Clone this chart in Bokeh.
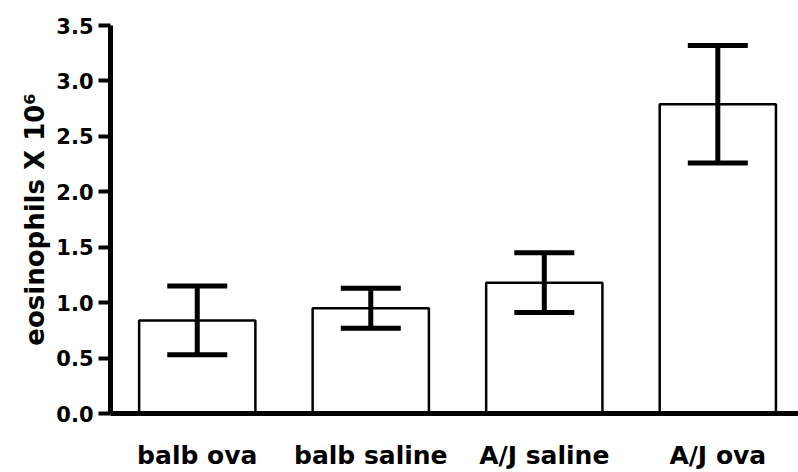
from bokeh.plotting import figure
from bokeh.models import ColumnDataSource, Whisker, TeeHead, Range1d, FixedTicker, NumeralTickFormatter
from bokeh.embed import file_html
from bokeh.resources import INLINE

# ---- data ----
categories = ["balb ova", "balb saline", "A/J saline", "A/J ova"]
means = [0.84, 0.95, 1.18, 2.79]
sems = [0.31, 0.18, 0.27, 0.53]
y_ticks = [0.0, 0.5, 1.0, 1.5, 2.0, 2.5, 3.0, 3.5]

xs = [i + 0.5 for i in range(len(categories))]
src = ColumnDataSource(dict(
    x=xs, top=means,
    upper=[m + s for m, s in zip(means, sems)],
    lower=[m - s for m, s in zip(means, sems)],
))

FONT = "DejaVu Sans"

p = figure(width=798, height=472, output_backend="svg", toolbar_location=None,
           x_range=Range1d(0, 3.965), y_range=Range1d(0, 3.5),
           min_border_left=110, min_border_right=0, min_border_top=25, min_border_bottom=59)
p.outline_line_color = None
p.xgrid.visible = False
p.ygrid.visible = False
p.background_fill_color = "white"
p.border_fill_color = "white"

p.vbar(x="x", top="top", bottom=0, width=0.67, source=src,
       fill_color="white", line_color="black", line_width=2.5)

w = Whisker(base="x", upper="upper", lower="lower", source=src,
            line_color="black", line_width=5, level="overlay",
            upper_head=TeeHead(size=60, line_width=5, line_color="black"),
            lower_head=TeeHead(size=60, line_width=5, line_color="black"))
p.add_layout(w)

# y axis
ya = p.yaxis[0]
ya.ticker = FixedTicker(ticks=y_ticks)
ya.formatter = NumeralTickFormatter(format="0.0")
ya.axis_line_width = 5
ya.axis_line_color = "black"
ya.major_tick_line_width = 4
ya.major_tick_out = 12
ya.major_tick_in = 0
ya.minor_tick_line_color = None
ya.major_label_text_font = FONT
ya.major_label_text_font_style = "bold"
ya.major_label_text_font_size = "21px"
ya.major_label_text_color = "black"
ya.major_label_standoff = 5
ya.axis_label = "eosinophils X 10\u2076"
ya.axis_label_text_font = FONT
ya.axis_label_text_font_style = "bold"
ya.axis_label_text_font_size = "26px"
ya.axis_label_text_color = "black"
ya.axis_label_standoff = 3

# x axis
xa = p.xaxis[0]
xa.ticker = FixedTicker(ticks=xs)
xa.major_label_overrides = {x: c for x, c in zip(xs, categories)}
xa.axis_line_width = 5
xa.axis_line_color = "black"
xa.major_tick_line_color = None
xa.minor_tick_line_color = None
xa.major_tick_out = 0
xa.major_tick_in = 0
xa.major_label_text_font = FONT
xa.major_label_text_font_style = "bold"
xa.major_label_text_font_size = "25px"
xa.major_label_text_color = "black"
xa.major_label_standoff = 27

open("out.html", "w").write(file_html(p, INLINE))
